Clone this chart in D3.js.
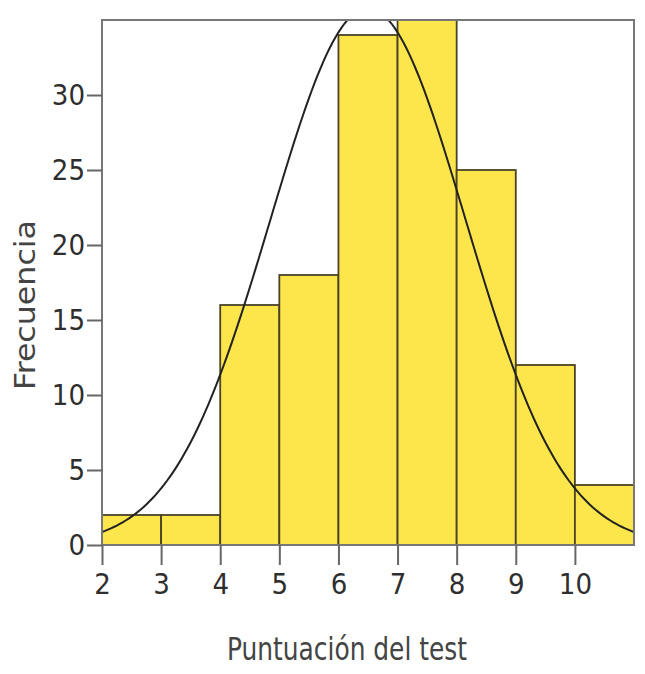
<!DOCTYPE html>
<html>
<head>
<script src="https://d3js.org/d3.v7.min.js"></script>
<style>
  body {margin: 0; background: #fff;}
  .axis text {font-family: "DejaVu Sans Condensed", "Liberation Sans Narrow", sans-serif; font-size: 29px; fill: #2e2e2e;}
  .axis .domain {display: none;}
  .axis line {stroke: #666; stroke-width: 2;}
  .label {font-family: "DejaVu Sans Condensed", sans-serif; fill: #444;}
</style>
</head>
<body>
<svg id="chart" width="645" height="674"></svg>
<script>
// histogram data
var binStart = [2, 3, 4, 5, 6, 7, 8, 9, 10];
var counts = [2, 2, 16, 18, 34, 35, 25, 12, 4];
var binWidth = 1;
var xTicks = [2, 3, 4, 5, 6, 7, 8, 9, 10];
var yTicks = [0, 5, 10, 15, 20, 25, 30];
// fitted normal curve
var fitMean = 6.5, fitSd = 1.65;

var svg = d3.select("#chart"),
    margin = {top: 20, right: 11, bottom: 129, left: 102},
    width = +svg.attr("width") - margin.left - margin.right,
    height = +svg.attr("height") - margin.top - margin.bottom,
    g = svg.append("g").attr("transform", "translate(" + margin.left + "," + margin.top + ")");

var x = d3.scaleLinear().domain([2, 11]).range([0, width]);
var y = d3.scaleLinear().domain([0, 35]).range([height, 0]);

svg.append("defs").append("clipPath").attr("id", "clip")
  .append("rect").attr("width", width).attr("height", height);

// bars
g.selectAll("rect.bar")
  .data(binStart)
  .enter().append("rect")
  .attr("class", "bar")
  .attr("x", function(d) { return x(d); })
  .attr("y", function(d, i) { return y(counts[i]); })
  .attr("width", function(d) { return x(d + binWidth) - x(d); })
  .attr("height", function(d, i) { return height - y(counts[i]); })
  .attr("fill", "#fde64b")
  .attr("stroke", "#4a4326")
  .attr("stroke-width", 1.8);

// normal curve scaled to counts
var n = d3.sum(counts);
var pts = d3.range(2, 11.0001, 0.05).map(function(v) {
  var z = (v - fitMean) / fitSd;
  return [v, n * binWidth * Math.exp(-0.5 * z * z) / (fitSd * Math.sqrt(2 * Math.PI))];
});
g.append("path")
  .datum(pts)
  .attr("clip-path", "url(#clip)")
  .attr("fill", "none")
  .attr("stroke", "#222")
  .attr("stroke-width", 2)
  .attr("d", d3.line().x(function(d) { return x(d[0]); }).y(function(d) { return y(d[1]); }));

// frame
g.append("rect")
  .attr("width", width).attr("height", height)
  .attr("fill", "none").attr("stroke", "#777").attr("stroke-width", 2);

g.append("g")
  .attr("class", "axis")
  .attr("transform", "translate(0," + height + ")")
  .call(d3.axisBottom(x).tickValues(xTicks).tickSize(20).tickPadding(8));

g.append("g")
  .attr("class", "axis")
  .call(d3.axisLeft(y).tickValues(yTicks).tickSize(15).tickPadding(2));

svg.append("text")
  .attr("class", "label")
  .attr("x", 347).attr("y", 660)
  .attr("text-anchor", "middle")
  .attr("font-size", 32)
  .attr("textLength", 240)
  .attr("lengthAdjust", "spacingAndGlyphs")
  .text("Puntuación del test");

svg.append("text")
  .attr("class", "label")
  .attr("transform", "translate(35,305) rotate(-90)")
  .attr("text-anchor", "middle")
  .attr("font-size", 29)
  .attr("textLength", 170)
  .attr("lengthAdjust", "spacingAndGlyphs")
  .text("Frecuencia");
</script>
</body>
</html>
